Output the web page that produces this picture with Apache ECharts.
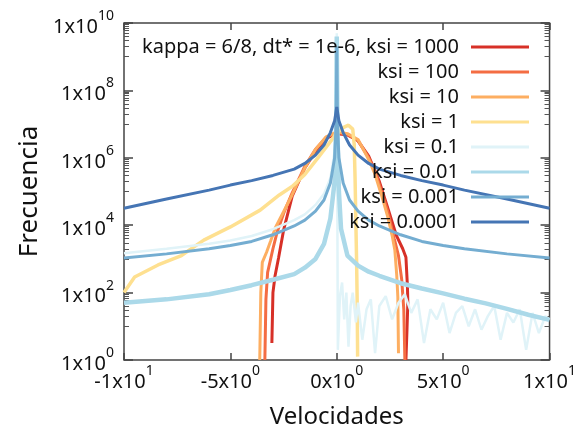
<!DOCTYPE html>
<html>
<head>
<meta charset="utf-8">
<script src="https://cdn.jsdelivr.net/npm/echarts@6/dist/echarts.min.js"></script>
<style>
  html, body { margin: 0; padding: 0; background: #fff; }
  #chart { width: 579px; height: 437px; }
</style>
</head>
<body>
<div id="chart"></div>
<script>
  // etiquetas de los ejes
  const xTickMant = ['-1', '-5', '0', '5', '1']
  const xTickExp = ['1', '0', '0', '0', '1']
  const yTicks = [1, 1e2, 1e4, 1e6, 1e8, 1e10]
  const yTickExp = ['0', '2', '4', '6', '8', '10']

  const names = [
    'kappa = 6/8, dt* = 1e-6, ksi = 1000',
    'ksi = 100',
    'ksi = 10',
    'ksi = 1',
    'ksi = 0.1',
    'ksi = 0.01',
    'ksi = 0.001',
    'ksi = 0.0001',
  ]
  const colors = ['#d73027', '#f46d43', '#fdae61', '#fee090', '#e0f3f8', '#abd9e9', '#74add1', '#4575b4']

  // ksi = 1000
  const x1000 = [-3.05, -3.0, -2.9, -2.73, -2.5, -2.1, -1.5, -1, -0.5, 0, 0.5, 1, 1.5, 2, 2.4, 2.8, 3.1, 3.25, 3.32, 3.34, 3.3, 3.25]
  const y1000 = [3.2, 100, 316, 1.12e3, 7.1e3, 7.1e4, 5.0e5, 1.58e6, 3.8e6, 5.2e6, 4.8e6, 3.2e6, 1.12e6, 2.0e5, 3.2e4, 5.0e3, 2.0e3, 1.12e3, 158, 50, 7.9, 1]
  // ksi = 100
  const x100 = [-3.38, -3.33, -3.25, -3.0, -2.8, -2.5, -2.1, -1.5, -1, -0.5, 0, 0.5, 1, 1.5, 1.8, 2.1, 2.4, 2.7, 2.9, 3.05, 3.15, 3.2]
  const y100 = [1, 63, 400, 2.0e3, 6.3e3, 2.24e4, 8.9e4, 5.6e5, 1.78e6, 4.0e6, 5.6e6, 5.0e6, 3.2e6, 1e6, 4.0e5, 1e5, 2.5e4, 4.0e3, 1.26e3, 250, 32, 1]
  // ksi = 10
  const x10 = [-3.62, -3.57, -3.5, -3.3, -3.1, -2.87, -2.5, -2.1, -1.5, -1.0, -0.5, 0, 0.5, 1.0, 1.5, 1.8, 2.1, 2.4, 2.6, 2.73, 2.82, 2.87, 2.9]
  const y10 = [1, 100, 790, 1.58e3, 3.5e3, 8.9e3, 2.5e4, 7.9e4, 5.0e5, 1.78e6, 4.2e6, 5.9e6, 5.2e6, 3.5e6, 8.9e5, 3.2e5, 7.9e4, 1.74e4, 5.0e3, 1.8e3, 316, 74, 1.58]
  // ksi = 1
  const x1 = [-10, -9.5, -8.4, -7.3, -6.25, -5, -3.6, -2.7, -2.1, -1.5, -0.86, -0.4, 0, 0.3, 0.55, 0.75, 0.82, 0.86, 0.9, 0.93, 0.96, 0.98]
  const y1 = [100, 290, 660, 1.26e3, 3.6e3, 8.9e3, 2.8e4, 7.9e4, 1.41e5, 3.2e5, 1.05e6, 2.5e6, 5.4e6, 7.9e6, 9.3e6, 7.1e6, 2.5e6, 2.5e5, 1e4, 1e3, 50, 1.26]
  // ksi = 0.1
  const x01 = [-10, -8, -6, -5, -4, -3, -2, -1.5, -1, -0.6, -0.3, -0.1, -0.03, 0, 0.05, 0.15, 0.25, 0.35, 0.45, 0.55, 0.65, 0.75, 0.9, 1.0, 1.2, 1.4, 1.6, 1.8, 2.0, 2.3, 2.6, 2.9, 3.2, 3.5, 3.8, 4.1, 4.4, 4.7, 5.0, 5.3, 5.6, 5.9, 6.2, 6.5, 6.8, 7.1, 7.4, 7.7, 8.0, 8.3, 8.6, 8.9, 9.2, 9.5, 9.8, 10]
  const y01 = [1.48e3, 2.0e3, 2.8e3, 3.5e3, 4.8e3, 7.6e3, 1.41e4, 2.1e4, 4.0e4, 8.5e4, 2.5e5, 1.58e6, 1.58e7, 5.0e9, 2.0, 79, 200, 16, 100, 2.5, 40, 100, 13, 50, 4, 32, 63, 1.6, 40, 79, 16, 50, 89, 25, 63, 3.2, 32, 16, 50, 6.3, 25, 40, 10, 32, 7.9, 20, 40, 4, 25, 13, 32, 2, 25, 6.3, 20, 16]
  // ksi = 0.01
  const x001 = [-10, -8, -6, -5, -4, -3, -2, -1.5, -1, -0.6, -0.3, -0.1, -0.03, 0, 0.03, 0.1, 0.2, 0.5, 1, 1.5, 2, 3, 4, 5, 6, 7, 8, 9, 10]
  const y001 = [50, 63, 89, 120, 166, 240, 355, 550, 1000, 2800, 1.58e4, 2.0e5, 6.3e6, 4.0e9, 6.3e6, 1e5, 7.9e3, 1.26e3, 630, 417, 316, 190, 132, 95, 66, 48, 33, 22, 15.5]
  // ksi = 0.001
  const x0001 = [-10, -8, -6, -5, -4, -3, -2, -1.5, -1, -0.6, -0.3, -0.1, -0.03, 0, 0.03, 0.1, 0.3, 0.6, 1, 1.5, 2, 3, 4, 5, 6, 8, 10]
  const y0001 = [1.07e3, 1.41e3, 2.0e3, 2.5e3, 3.3e3, 5.2e3, 9.5e3, 1.41e4, 2.6e4, 5.6e4, 1.78e5, 1e6, 1e7, 2.0e9, 1e7, 1e6, 1.78e5, 5.6e4, 2.6e4, 1.41e4, 9.5e3, 5.2e3, 3.3e3, 2.5e3, 2.0e3, 1.41e3, 1.07e3]
  // ksi = 0.0001
  const x00001 = [-10, -8, -6, -5, -4, -3, -2, -1.5, -1, -0.6, -0.3, -0.1, 0, 0.1, 0.3, 0.6, 1, 1.5, 2, 3, 4, 5, 6, 8, 10]
  const y00001 = [3.2e4, 6.0e4, 1.1e5, 1.55e5, 2.1e5, 3.0e5, 4.6e5, 6.8e5, 1.2e6, 2.4e6, 5.6e6, 1.26e7, 3.2e7, 1.26e7, 5.6e6, 2.4e6, 1.2e6, 6.8e5, 4.6e5, 3.0e5, 2.1e5, 1.55e5, 1.1e5, 6.0e4, 3.2e4]

  const xs = [x1000, x100, x10, x1, x01, x001, x0001, x00001]
  const ys = [y1000, y100, y10, y1, y01, y001, y0001, y00001]
  const widths = [3, 3, 3, 3.5, 2.5, 4.5, 3, 3]

  // marcas menores estilo gnuplot: 10..90 x 10^n entre decadas pares
  const minorTicks = []
  for (let n = 0; n < 10; n += 2) {
    for (let k = 1; k <= 9; k++) minorTicks.push(n + 1 + Math.log10(k))
  }

  const font = 'Noto Sans'
  const ink = '#111'
  const rich = {
    b: { fontSize: 20, fontFamily: font, color: ink, lineHeight: 28, verticalAlign: 'bottom' },
    s: { fontSize: 14, fontFamily: font, color: ink, lineHeight: 28, verticalAlign: 'top' },
  }
  const tickStyle = { color: '#444', width: 1.5 }
  const noLine = { show: false, onZero: false }

  const chart = echarts.init(document.getElementById('chart'))
  const option = {
    animation: false,
    color: colors,
    grid: {
      left: 124,
      right: 26,
      top: 23,
      bottom: 77,
      show: true,
      borderColor: '#444',
      borderWidth: 1.5,
    },
    legend: {
      data: names,
      orient: 'vertical',
      align: 'right',
      right: 45,
      top: 32,
      itemWidth: 58,
      itemHeight: 20,
      itemGap: 5,
      icon: 'path://M0,9 L58,9 L58,12 L0,12 Z',
      textStyle: { fontSize: 20, fontFamily: font, color: ink, padding: [0, 7, 0, 0] },
    },
    xAxis: [
      {
        type: 'value',
        min: -10,
        max: 10,
        interval: 5,
        name: 'Velocidades',
        nameLocation: 'middle',
        nameGap: 45,
        nameTextStyle: { fontSize: 24, fontFamily: font, color: ink },
        axisLine: noLine,
        axisTick: { inside: true, length: 7, lineStyle: tickStyle },
        splitLine: { show: false },
        axisLabel: {
          margin: 4,
          formatter: (v, i) => '{b|' + xTickMant[i] + 'x10}{s|' + xTickExp[i] + '}',
          rich: rich,
        },
      },
      {
        type: 'value',
        position: 'top',
        min: -10,
        max: 10,
        interval: 5,
        axisLine: noLine,
        axisTick: { inside: true, length: 7, lineStyle: tickStyle },
        axisLabel: { show: false },
        splitLine: { show: false },
      },
    ],
    yAxis: [
      {
        type: 'log',
        min: 1,
        max: 1e10,
        logBase: 10,
        position: 'left',
        name: 'Frecuencia',
        nameLocation: 'middle',
        nameGap: 80,
        nameTextStyle: { fontSize: 26, fontFamily: font, color: ink },
        axisLine: noLine,
        axisTick: { inside: true, length: 9, customValues: yTicks, lineStyle: tickStyle },
        splitLine: { show: false },
        axisLabel: {
          margin: 10,
          customValues: yTicks,
          formatter: (v) => '{b|1x10}{s|' + yTickExp[yTicks.findIndex(t => Math.abs(t - v) / t < 1e-6)] + '}',
          rich: rich,
        },
      },
      {
        type: 'log',
        min: 1,
        max: 1e10,
        logBase: 10,
        position: 'right',
        axisLine: noLine,
        axisTick: { inside: true, length: 9, customValues: yTicks, lineStyle: tickStyle },
        axisLabel: { show: false },
        splitLine: { show: false },
      },
      {
        type: 'value',
        min: 0,
        max: 10,
        position: 'left',
        axisLine: noLine,
        axisTick: { inside: true, length: 5, customValues: minorTicks, lineStyle: { color: '#555', width: 1 } },
        axisLabel: { show: false },
        splitLine: { show: false },
      },
      {
        type: 'value',
        min: 0,
        max: 10,
        position: 'right',
        axisLine: noLine,
        axisTick: { inside: true, length: 5, customValues: minorTicks, lineStyle: { color: '#555', width: 1 } },
        axisLabel: { show: false },
        splitLine: { show: false },
      },
    ],
    series: names.map((name, s) => ({
      name: name,
      type: 'line',
      symbol: 'none',
      xAxisIndex: 0,
      yAxisIndex: 0,
      clip: true,
      lineStyle: { width: widths[s], color: colors[s] },
      itemStyle: { color: colors[s] },
      data: xs[s].map((x, i) => [x, ys[s][i]]),
    })),
  }
  chart.setOption(option)
</script>
</body>
</html>
